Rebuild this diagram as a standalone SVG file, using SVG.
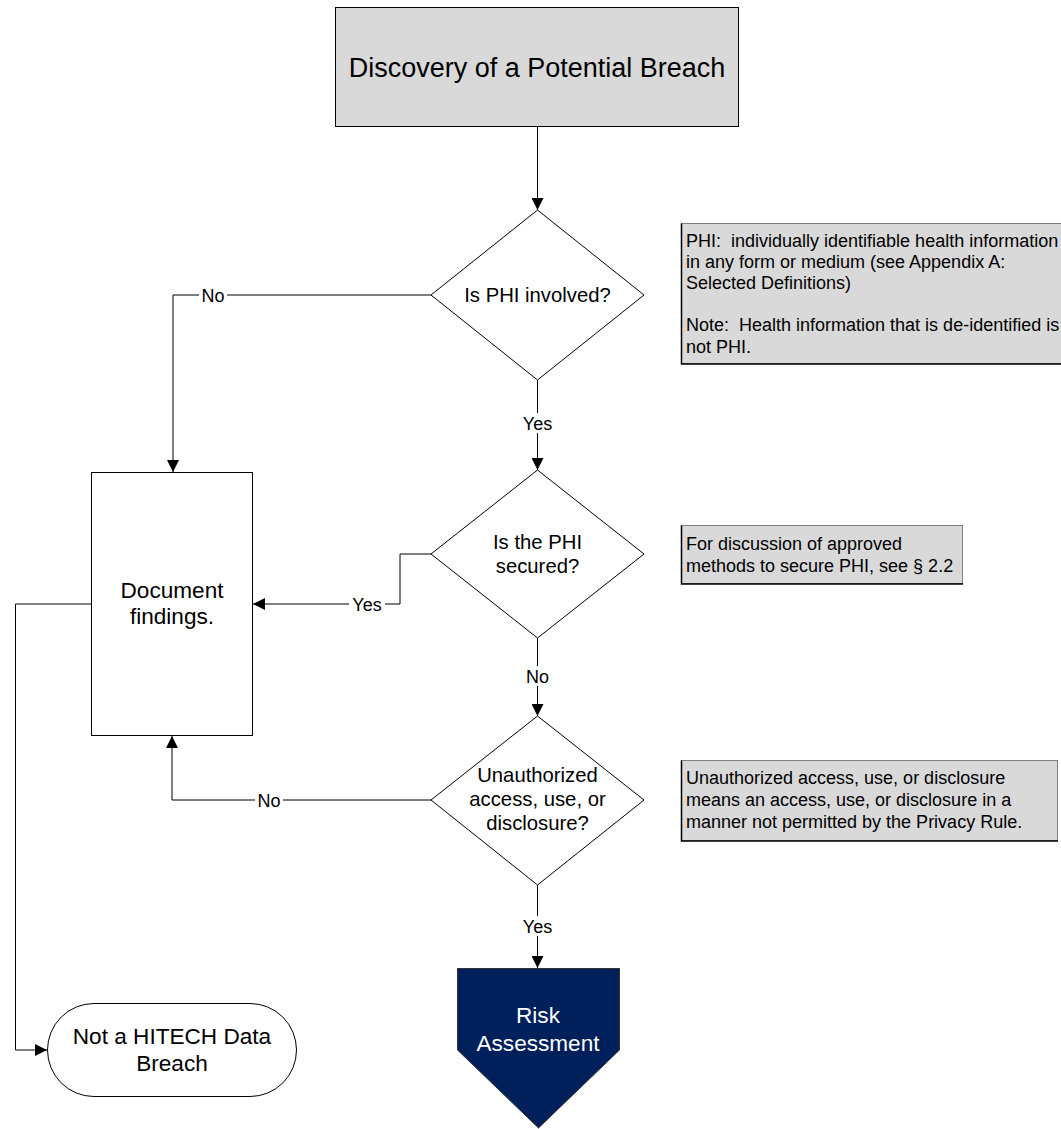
<svg xmlns="http://www.w3.org/2000/svg" width="1061" height="1129" viewBox="0 0 1061 1129">
<defs>
<marker id="arr" viewBox="0 0 10 10" refX="10" refY="5" markerWidth="12" markerHeight="12" markerUnits="userSpaceOnUse" orient="auto">
<path d="M0,0 L10,5 L0,10 z" fill="#000"/>
</marker>
<style>
text{font-family:"Liberation Sans",Arial,sans-serif;fill:#000;white-space:pre}
.shape{fill:#fff;stroke:#000;stroke-width:1}
.gray{fill:#d9d9d9;stroke:#000;stroke-width:1}
.note{fill:#d9d9d9;stroke:#7f7f7f;stroke-width:1}
.shadow{fill:none;stroke:#000;stroke-width:1.5}
.conn{fill:none;stroke:#000;stroke-width:1}
.lbl{font-size:18px;text-anchor:middle}
.dt{font-size:20.3px;text-anchor:middle}
.nt{font-size:18px}
.bt{font-size:22.6px;text-anchor:middle}
</style>
</defs>
<rect width="1061" height="1129" fill="#fff"/>

<g id="connectors">
<path class="conn" d="M537.5,127 V210" marker-end="url(#arr)"/>
<path class="conn" d="M431,295 H173 V472" marker-end="url(#arr)"/>
<path class="conn" d="M537.5,380 V470" marker-end="url(#arr)"/>
<path class="conn" d="M431,554 H400 V604 H253" marker-end="url(#arr)"/>
<path class="conn" d="M537.5,638 V716" marker-end="url(#arr)"/>
<path class="conn" d="M431,800 H172 V736" marker-end="url(#arr)"/>
<path class="conn" d="M537.5,885 V968" marker-end="url(#arr)"/>
<path class="conn" d="M91,604 H15.5 V1050 H47" marker-end="url(#arr)"/>
<rect x="199" y="286" width="28" height="18" fill="#fff"/>
<text class="lbl" x="213" y="301.5">No</text>
<rect x="519" y="413" width="38" height="20" fill="#fff"/>
<text class="lbl" x="537.5" y="429.5">Yes</text>
<rect x="349" y="595" width="36" height="18" fill="#fff"/>
<text class="lbl" x="367" y="610.5">Yes</text>
<rect x="522" y="666" width="31" height="20" fill="#fff"/>
<text class="lbl" x="537.5" y="682.5">No</text>
<rect x="255" y="791" width="28" height="18" fill="#fff"/>
<text class="lbl" x="269" y="806.5">No</text>
<rect x="519" y="916" width="38" height="20" fill="#fff"/>
<text class="lbl" x="537.5" y="932.5">Yes</text>
</g>

<g id="discovery">
<rect class="gray" x="335.5" y="7.5" width="403" height="119"/>
<text x="537" y="76.5" font-size="27" text-anchor="middle">Discovery of a Potential Breach</text>
</g>

<g id="phi-involved">
<polygon class="shape" points="537.5,210 644,295 537.5,380 431,295"/>
<text class="dt" x="537.5" y="302">Is PHI involved?</text>
</g>

<g id="phi-secured">
<polygon class="shape" points="537.5,470 644,554 537.5,638 431,554"/>
<text class="dt" x="537.5" y="549">Is the PHI</text>
<text class="dt" x="537.5" y="573">secured?</text>
</g>

<g id="unauthorized">
<polygon class="shape" points="537.5,716 644,800 537.5,885 431,800"/>
<text class="dt" x="537.5" y="782">Unauthorized</text>
<text class="dt" x="537.5" y="806">access, use, or</text>
<text class="dt" x="537.5" y="830">disclosure?</text>
</g>

<g id="document">
<rect class="shape" x="91.5" y="472.5" width="161" height="263"/>
<text class="bt" x="172" y="598">Document</text>
<text class="bt" x="172" y="624">findings.</text>
</g>

<g id="not-breach">
<rect class="shape" x="47.5" y="1003.5" width="249" height="93" rx="46.5" ry="46.5"/>
<text class="bt" x="172" y="1044">Not a HITECH Data</text>
<text class="bt" x="172" y="1071">Breach</text>
</g>

<g id="risk">
<polygon points="457.5,968.5 619.5,968.5 619.5,1050 538.5,1128 457.5,1050" fill="#00205b" stroke="#333" stroke-width="1"/>
<text class="bt" x="538" y="1023" style="fill:#fff">Risk</text>
<text class="bt" x="538" y="1051" style="fill:#fff">Assessment</text>
</g>

<g id="note-phi">
<rect class="note" x="681.5" y="223.5" width="390" height="140"/>
<path class="shadow" d="M681.5,223.5 V364 H1061"/>
<text class="nt" x="686" y="247">PHI:  individually identifiable health information</text>
<text class="nt" x="686" y="268">in any form or medium (see Appendix A:</text>
<text class="nt" x="686" y="289">Selected Definitions)</text>
<text class="nt" x="686" y="331">Note:  Health information that is de-identified is</text>
<text class="nt" x="686" y="353">not PHI.</text>
</g>

<g id="note-secured">
<rect class="note" x="681.5" y="525.5" width="281" height="58"/>
<path class="shadow" d="M681.5,525.5 V584 H963"/>
<text class="nt" x="686" y="550">For discussion of approved</text>
<text class="nt" x="686" y="572">methods to secure PHI, see § 2.2</text>
</g>

<g id="note-unauth">
<rect class="note" x="681.5" y="760.5" width="376" height="80"/>
<path class="shadow" d="M681.5,760.5 V841 H1058"/>
<text class="nt" x="686" y="784">Unauthorized access, use, or disclosure</text>
<text class="nt" x="686" y="806">means an access, use, or disclosure in a</text>
<text class="nt" x="686" y="828">manner not permitted by the Privacy Rule.</text>
</g>
</svg>
